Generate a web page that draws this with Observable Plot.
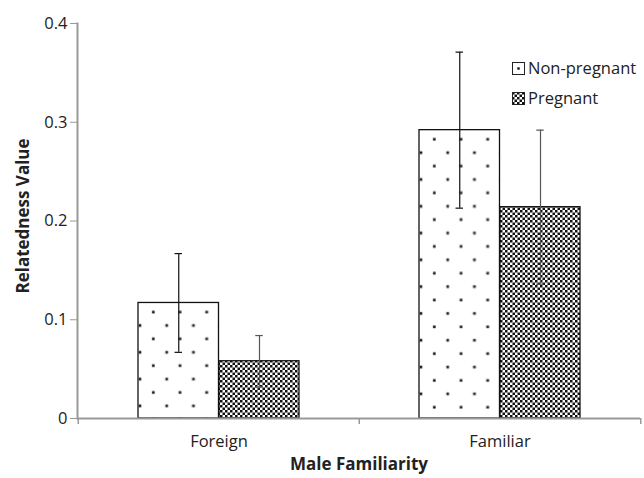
<!DOCTYPE html>
<html>
<head>
<meta charset="utf-8">
<script src="https://cdn.jsdelivr.net/npm/d3@7"></script>
<script src="https://cdn.jsdelivr.net/npm/@observablehq/plot@0.6"></script>
<style>
  body { margin: 0; background: #fff; }
  #wrap { position: relative; width: 644px; height: 478px; font-family: "Open Sans", sans-serif; }
  #legend { position: absolute; left: 512px; top: 53px; font-size: 16.5px; color: #222; line-height: 30px; }
  #legend div { display: flex; align-items: center; height: 30px; }
  #legend svg { margin-right: 3px; }
</style>
</head>
<body>
<svg width="0" height="0" style="position:absolute">
  <defs>
    <pattern id="dotsTile" patternUnits="userSpaceOnUse" width="26.7" height="26.8">
      <rect x="14" y="8.3" width="2.6" height="2.6" fill="#111"/>
      <rect x="0.7" y="21.7" width="2.6" height="2.6" fill="#111"/>
    </pattern>
    <pattern id="dots" patternUnits="objectBoundingBox" width="1" height="1">
      <rect width="2000" height="2000" fill="#fff"/>
      <rect width="2000" height="2000" fill="url(#dotsTile)"/>
    </pattern>
    <pattern id="checker" patternUnits="userSpaceOnUse" width="5" height="5">
      <rect width="5" height="5" fill="#fff"/>
      <rect x="0" y="0" width="2.5" height="2.5" fill="#111"/>
      <rect x="2.5" y="2.5" width="2.5" height="2.5" fill="#111"/>
    </pattern>
  </defs>
</svg>
<div id="wrap">
  <div id="legend"></div>
</div>
<script>
const categories = ["Foreign", "Familiar"];
const groups = ["Non-pregnant", "Pregnant"];
const nonPregnant = [0.117, 0.292];
const nonPregnantErr = [0.050, 0.079];
const pregnant = [0.058, 0.214];
const pregnantErr = [0.026, 0.078];
const yTicks = [0, 0.1, 0.2, 0.3, 0.4];
const xTitle = "Male Familiarity";
const yTitle = "Relatedness Value";

const npRows = categories.map((c, i) => ({category: c, value: nonPregnant[i], err: nonPregnantErr[i]}));
const pRows = categories.map((c, i) => ({category: c, value: pregnant[i], err: pregnantErr[i]}));

const lo = d => d.value - d.err;
const hi = d => d.value + d.err;

const chart = Plot.plot({
  width: 644,
  height: 478,
  marginLeft: 77,
  marginRight: 4,
  marginTop: 23,
  marginBottom: 60,
  style: {fontFamily: "Open Sans, sans-serif", fontSize: "16px", color: "#222", background: "#fff"},
  x: {domain: categories, padding: 0, label: null},
  y: {domain: [0, 0.4], label: null},
  marks: [
    Plot.barY(npRows, {x: "category", y: "value", fill: "url(#dots)", stroke: "#111", strokeWidth: 1.3, insetLeft: 60, insetRight: 140.5}),
    Plot.barY(pRows, {x: "category", y: "value", fill: "url(#checker)", stroke: "#111", strokeWidth: 1.3, insetLeft: 141, insetRight: 60}),
    Plot.ruleX(npRows, {x: "category", y1: lo, y2: hi, dx: -40.25, stroke: "#111", strokeWidth: 1.2}),
    Plot.tickY(npRows, {x: "category", y: lo, insetLeft: 96.5, insetRight: 177, stroke: "#111", strokeWidth: 1.2}),
    Plot.tickY(npRows, {x: "category", y: hi, insetLeft: 96.5, insetRight: 177, stroke: "#111", strokeWidth: 1.2}),
    Plot.ruleX(pRows, {x: "category", y1: lo, y2: hi, dx: 40.5, stroke: "#555", strokeWidth: 1.2}),
    Plot.tickY(pRows, {x: "category", y: lo, insetLeft: 177.25, insetRight: 96.25, stroke: "#555", strokeWidth: 1.2}),
    Plot.tickY(pRows, {x: "category", y: hi, insetLeft: 177.25, insetRight: 96.25, stroke: "#555", strokeWidth: 1.2}),
    Plot.ruleY([0], {stroke: "#999", strokeWidth: 2}),
    Plot.frame({anchor: "left", stroke: "#999", strokeWidth: 2}),
    Plot.axisY({ticks: yTicks, tickSize: 7, tickPadding: 3, stroke: "#999", tickFormat: d => String(d), fill: "#222", fontSize: 16.5}),
    Plot.axisX({tickSize: 0, tickPadding: 17, fill: "#222", fontSize: 16.5}),
    Plot.axisX({ticks: categories, tickSize: 6, text: null, dx: -140.75, stroke: "#999", strokeWidth: 1.5}),
    Plot.axisX({ticks: [categories[1]], tickSize: 6, text: null, dx: 140.75, stroke: "#999", strokeWidth: 1.5}),
    Plot.text([xTitle], {frameAnchor: "bottom", dy: 51, textAnchor: "middle", fontWeight: "bold", fontSize: 17, fill: "#222"}),
    Plot.text([yTitle], {frameAnchor: "left", dx: -54, dy: -5, textAnchor: "middle", rotate: -90, fontWeight: "bold", fontSize: 17, fill: "#222"})
  ]
});

const wrap = document.getElementById("wrap");
wrap.insertBefore(chart, wrap.firstChild);

const legend = d3.select("#legend");
const fills = {"Non-pregnant": "dot", "Pregnant": "url(#checker)"};
groups.forEach(g => {
  const row = legend.append("div");
  const s = row.append("svg").attr("width", 13).attr("height", 13);
  if (fills[g] === "dot") {
    s.append("rect").attr("x", 0.5).attr("y", 0.5).attr("width", 12).attr("height", 12).attr("fill", "#fff").attr("stroke", "#222");
    s.append("rect").attr("x", 5.3).attr("y", 5.3).attr("width", 2.4).attr("height", 2.4).attr("fill", "#111");
  } else {
    s.append("rect").attr("x", 0.5).attr("y", 0.5).attr("width", 12).attr("height", 12).attr("fill", fills[g]).attr("stroke", "#222");
  }
  row.append("span").text(g);
});
</script>
</body>
</html>
